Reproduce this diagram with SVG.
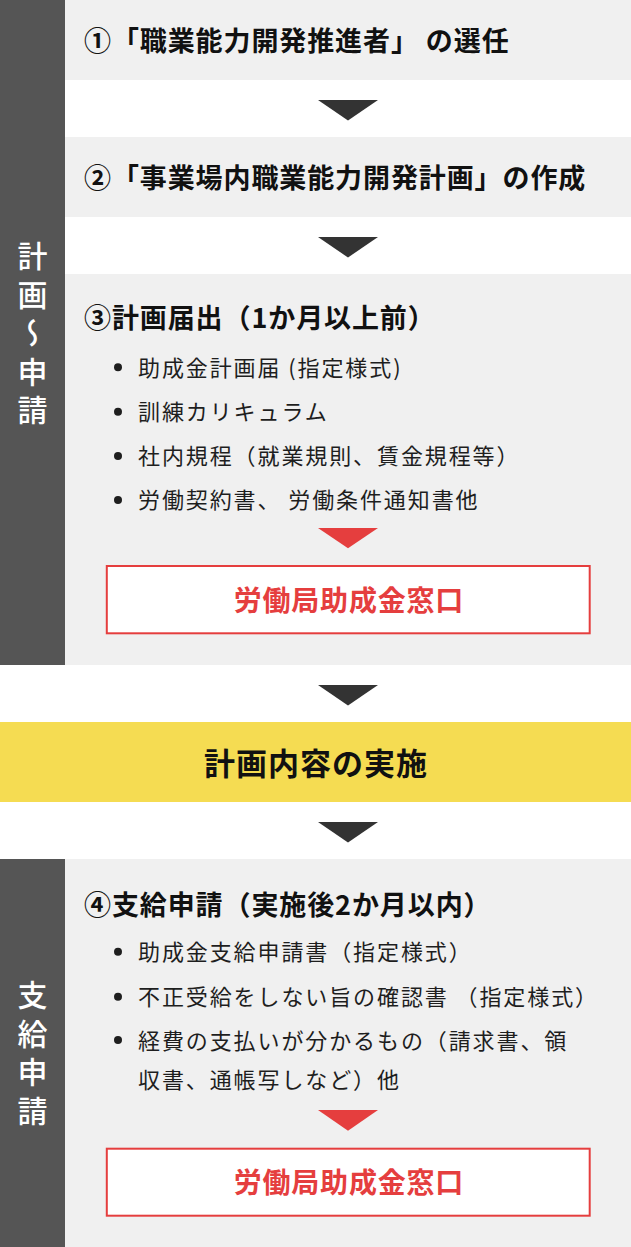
<svg xmlns="http://www.w3.org/2000/svg" width="631" height="1247" viewBox="0 0 631 1247">
<style>
.panel{fill:#f0f0f0}
.bar{fill:#555555}
.band{fill:#f5dc52}
.bt{font-family:"Noto Sans CJK JP",sans-serif;font-weight:500;font-size:30px;letter-spacing:8.5px;fill:#ffffff;writing-mode:vertical-rl}
.title{font-family:"Noto Sans CJK JP",sans-serif;font-weight:700;font-size:27px;letter-spacing:0.9px;fill:#111111}
.item{font-family:"Noto Sans CJK JP",sans-serif;font-weight:400;font-size:22px;letter-spacing:1.9px;fill:#1e1e1e}
.dot{fill:#1e1e1e}
.arrow{fill:#333333}
.rarrow{fill:#e53e3e}
.rbox{fill:#ffffff;stroke:#e53e3e;stroke-width:2}
.rtext{font-family:"Noto Sans CJK JP",sans-serif;font-weight:700;font-size:28px;letter-spacing:0.8px;fill:#e53e3e;text-anchor:middle}
.big{font-family:"Noto Sans CJK JP",sans-serif;font-weight:700;font-size:31px;letter-spacing:1px;fill:#111111;text-anchor:middle}
</style>
<rect width="631" height="1247" fill="#ffffff"/>

<g id="bar-plan">
<rect class="bar" x="0" y="0" width="65" height="665"/>
<text class="bt" x="32.5" y="241">計画〜申請</text>
</g>

<g id="bar-apply">
<rect class="bar" x="0" y="859" width="65" height="388"/>
<text class="bt" x="32.5" y="980">支給申請</text>
</g>

<g id="step1">
<rect class="panel" x="65" y="0" width="566" height="80"/>
<text class="title" x="84" y="51.4">①「職業能力開発推進者」 の選任</text>
</g>

<g id="step2">
<rect class="panel" x="65" y="137" width="566" height="80"/>
<text class="title" x="84" y="188">②「事業場内職業能力開発計画」の作成</text>
</g>

<g id="step3">
<rect class="panel" x="65" y="274" width="566" height="391"/>
<text class="title" x="84" y="328">③計画届出（1か月以上前）</text>
<circle class="dot" cx="118" cy="367.3" r="4"/>
<text class="item" x="138" y="375.7">助成金計画届 (指定様式)</text>
<circle class="dot" cx="118" cy="411.7" r="4"/>
<text class="item" x="138" y="420">訓練カリキュラム</text>
<circle class="dot" cx="118" cy="456" r="4"/>
<text class="item" x="138" y="464.4">社内規程（就業規則、賃金規程等）</text>
<circle class="dot" cx="118" cy="500" r="4"/>
<text class="item" x="138" y="508.4">労働契約書、 労働条件通知書他</text>
</g>

<g id="office1">
<rect class="rbox" x="106.8" y="566" width="482.9" height="67.3"/>
<text class="rtext" x="348.9" y="611.3">労働局助成金窓口</text>
</g>

<g id="implement">
<rect class="band" x="0" y="722" width="631" height="80"/>
<text class="big" x="316" y="774.5">計画内容の実施</text>
</g>

<g id="step4">
<rect class="panel" x="65" y="859" width="566" height="388"/>
<text class="title" x="84" y="914.8">④支給申請（実施後2か月以内）</text>
<circle class="dot" cx="118" cy="951.7" r="4"/>
<text class="item" x="138" y="960.2">助成金支給申請書（指定様式）</text>
<circle class="dot" cx="118" cy="996.7" r="4"/>
<text class="item" x="138" y="1005.2">不正受給をしない旨の確認書 （指定様式）</text>
<circle class="dot" cx="118" cy="1040" r="4"/>
<text class="item" x="138" y="1048.5">経費の支払いが分かるもの（請求書、領</text>
<text class="item" x="138" y="1088">収書、通帳写しなど）他</text>
</g>

<g id="office2">
<rect class="rbox" x="106.8" y="1148.7" width="482.9" height="67"/>
<text class="rtext" x="348.9" y="1193">労働局助成金窓口</text>
</g>

<g id="connectors">
<polygon class="arrow" points="318,100 378,100 348,120.5"/>
<polygon class="arrow" points="318,237 378,237 348,257.5"/>
<polygon class="rarrow" points="318,528 378,528 348,548.3"/>
<polygon class="arrow" points="318,685 378,685 348,705.5"/>
<polygon class="arrow" points="318,822 378,822 348,842.5"/>
<polygon class="rarrow" points="318,1110 378,1110 348,1130.7"/>
</g>
</svg>
